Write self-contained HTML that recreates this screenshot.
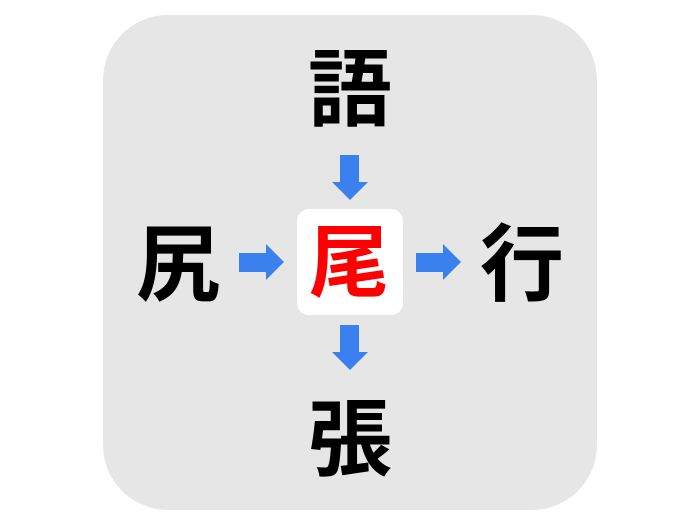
<!DOCTYPE html>
<html><head><meta charset="utf-8"><style>
html,body{margin:0;padding:0;background:#fff;}
body{width:700px;height:525px;position:relative;overflow:hidden;}
.bg{position:absolute;left:103px;top:15px;width:494px;height:495px;background:#e6e6e6;border-radius:65px;}
.wb{position:absolute;left:297px;top:209px;width:106px;height:106px;background:#fff;border-radius:12px;}
.c{position:absolute;width:120px;height:120px;line-height:120px;text-align:center;font-family:"Noto Sans CJK JP","Noto Sans CJK SC",sans-serif;font-weight:700;font-size:84px;color:#000;}
svg{position:absolute;left:0;top:0;}
</style></head><body>
<div class="bg"></div>
<div class="wb"></div>
<div class="c" style="left:290px;top:24px;">語</div>
<div class="c" style="left:118px;top:199px;">尻</div>
<div class="c" style="left:462px;top:199px;">行</div>
<div class="c" style="left:290px;top:374px;">張</div>
<div class="c" style="left:289px;top:197px;color:#f00;font-size:80px;">尾</div>
<svg width="700" height="525">
<g fill="#3a80ee">
<polygon points="340,155 359,155 359,182 368,182 350,200 332,182 340,182"/>
<polygon points="340,325 359,325 359,352 368,352 350,370 332,352 340,352"/>
<polygon points="239,253 266,253 266,244 284,262 266,280 266,272 239,272"/>
<polygon points="416,253 443,253 443,244 461,262 443,280 443,272 416,272"/>
</g>
</svg>
</body></html>
